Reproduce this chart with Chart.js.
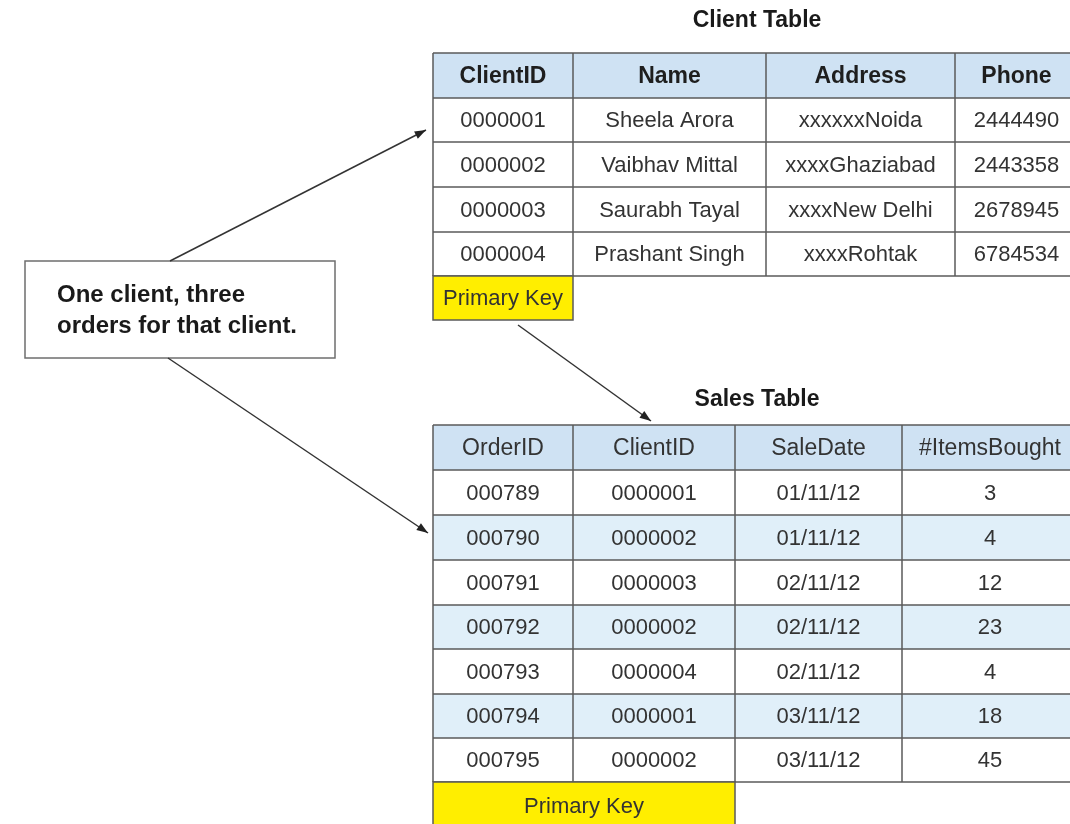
<!DOCTYPE html>
<html>
<head>
<meta charset="utf-8">
<script src="https://cdn.jsdelivr.net/npm/chart.js@4"></script>
<style>
  body { margin: 0; background: #fff; }
  #wrap { width: 1070px; height: 824px; }
</style>
</head>
<body>
<div id="wrap"><canvas id="c" width="1070" height="824"></canvas></div>
<script>
// --- data -------------------------------------------------------------
const clientHeaders = ['ClientID', 'Name', 'Address', 'Phone'];
const clientIds = ['0000001', '0000002', '0000003', '0000004'];
const clientNames = ['Sheela Arora', 'Vaibhav Mittal', 'Saurabh Tayal', 'Prashant Singh'];
const clientAddresses = ['xxxxxxNoida', 'xxxxGhaziabad', 'xxxxNew Delhi', 'xxxxRohtak'];
const clientPhones = ['2444490', '2443358', '2678945', '6784534'];

const salesHeaders = ['OrderID', 'ClientID', 'SaleDate', '#ItemsBought'];
const orderIds = ['000789', '000790', '000791', '000792', '000793', '000794', '000795'];
const saleClientIds = ['0000001', '0000002', '0000003', '0000002', '0000004', '0000001', '0000002'];
const saleDates = ['01/11/12', '01/11/12', '02/11/12', '02/11/12', '02/11/12', '03/11/12', '03/11/12'];
const itemsBought = [3, 4, 12, 23, 4, 18, 45];

const noteLines = ['One client, three', 'orders for that client.'];

// --- layout (in axis units, 1 unit = 1 px) ----------------------------
const clientCols = [433, 573, 766, 955, 1078];
const clientRows = [53, 98, 142, 187, 232, 276];
const salesCols = [433, 573, 735, 902, 1078];
const salesRows = [425, 470, 515, 560, 605, 649, 694, 738, 782];

// arrows: from -> to
const arrows = [
    [170, 261, 426, 130],
    [168, 358, 428, 533],
    [518, 325, 651, 421]
];

const HEAD_BG = '#cfe2f3', ALT_BG = '#e0eff9', KEY_BG = '#ffee00';
const LINE = '#5a5a5a', TXT = '#333333';
const FONT = '"Liberation Sans", Arial, sans-serif';

function drawTable(chart, cols, rows, header, body, opts) {
    const {ctx, scales: {x, y}} = chart;
    const X = v => x.getPixelForValue(v), Y = v => y.getPixelForValue(v);
    ctx.save();
    // backgrounds
    for (let r = 0; r < rows.length - 1; r++) {
        let bg = '#ffffff';
        if (r === 0) bg = HEAD_BG;
        else if (opts.striped && r % 2 === 0) bg = ALT_BG;
        ctx.fillStyle = bg;
        ctx.fillRect(X(cols[0]), Y(rows[r]), X(cols[cols.length - 1]) - X(cols[0]), Y(rows[r + 1]) - Y(rows[r]));
    }
    // grid
    ctx.strokeStyle = LINE;
    ctx.lineWidth = 1.5;
    rows.forEach(rv => {
        ctx.beginPath();
        ctx.moveTo(X(cols[0]), Y(rv));
        ctx.lineTo(X(cols[cols.length - 1]), Y(rv));
        ctx.stroke();
    });
    cols.forEach(cv => {
        ctx.beginPath();
        ctx.moveTo(X(cv), Y(rows[0]));
        ctx.lineTo(X(cv), Y(rows[rows.length - 1]));
        ctx.stroke();
    });
    // text
    ctx.textAlign = 'center';
    ctx.textBaseline = 'middle';
    const cells = [header].concat(body);
    cells.forEach((row, r) => {
        if (r === 0) {
            ctx.font = (opts.boldHeader ? 'bold ' : '') + '23px ' + FONT;
            ctx.fillStyle = opts.boldHeader ? '#1e1e1e' : TXT;
        } else {
            ctx.font = '22px ' + FONT;
            ctx.fillStyle = TXT;
        }
        row.forEach((val, c) => {
            const cx = (X(cols[c]) + X(cols[c + 1])) / 2;
            const cy = (Y(rows[r]) + Y(rows[r + 1])) / 2 + 1;
            ctx.fillText(String(val), cx, cy);
        });
    });
    ctx.restore();
}

function drawKey(chart, x0, x1, y0, y1) {
    const {ctx, scales: {x, y}} = chart;
    const X = v => x.getPixelForValue(v), Y = v => y.getPixelForValue(v);
    ctx.save();
    ctx.fillStyle = KEY_BG;
    ctx.fillRect(X(x0), Y(y0), X(x1) - X(x0), Y(y1) - Y(y0));
    ctx.strokeStyle = LINE;
    ctx.lineWidth = 1.5;
    ctx.strokeRect(X(x0), Y(y0), X(x1) - X(x0), Y(y1) - Y(y0));
    ctx.fillStyle = TXT;
    ctx.font = '22px ' + FONT;
    ctx.textAlign = 'center';
    ctx.textBaseline = 'middle';
    ctx.fillText('Primary Key', (X(x0) + X(x1)) / 2, (Y(y0) + Y(y1)) / 2 + 1);
    ctx.restore();
}

const diagramPlugin = {
    id: 'diagram',
    beforeDatasetsDraw(chart) {
        const {ctx, scales: {x, y}} = chart;
        const X = v => x.getPixelForValue(v), Y = v => y.getPixelForValue(v);

        ctx.save();
        ctx.fillStyle = '#1a1a1a';
        ctx.font = 'bold 23px ' + FONT;
        ctx.textAlign = 'center';
        ctx.textBaseline = 'middle';
        ctx.fillText('Client Table', X(757), Y(21));
        ctx.fillText('Sales Table', X(757), Y(400));
        ctx.restore();

        const clientBody = clientIds.map((id, i) => [id, clientNames[i], clientAddresses[i], clientPhones[i]]);
        drawTable(chart, clientCols, clientRows, clientHeaders, clientBody, {boldHeader: true, striped: false});
        drawKey(chart, 433, 573, 276, 320);

        const salesBody = orderIds.map((id, i) => [id, saleClientIds[i], saleDates[i], itemsBought[i]]);
        drawTable(chart, salesCols, salesRows, salesHeaders, salesBody, {boldHeader: false, striped: true});
        drawKey(chart, 433, 735, 782, 830);

        // note box
        ctx.save();
        ctx.fillStyle = '#fff';
        ctx.strokeStyle = '#6e6e6e';
        ctx.lineWidth = 1.5;
        ctx.fillRect(X(25), Y(261), X(335) - X(25), Y(358) - Y(261));
        ctx.strokeRect(X(25), Y(261), X(335) - X(25), Y(358) - Y(261));
        ctx.fillStyle = '#1a1a1a';
        ctx.font = 'bold 24px ' + FONT;
        ctx.textAlign = 'left';
        ctx.textBaseline = 'middle';
        noteLines.forEach((t, i) => ctx.fillText(t, X(57), Y(295 + i * 31)));
        ctx.restore();
    },
    afterDatasetsDraw(chart) {
        const {ctx, scales: {x, y}} = chart;
        ctx.save();
        ctx.fillStyle = '#222';
        arrows.forEach(a => {
            const x0 = x.getPixelForValue(a[0]), y0 = y.getPixelForValue(a[1]);
            const x1 = x.getPixelForValue(a[2]), y1 = y.getPixelForValue(a[3]);
            const ang = Math.atan2(y1 - y0, x1 - x0);
            ctx.beginPath();
            ctx.moveTo(x1, y1);
            ctx.lineTo(x1 - 12 * Math.cos(ang - 0.35), y1 - 12 * Math.sin(ang - 0.35));
            ctx.lineTo(x1 - 12 * Math.cos(ang + 0.35), y1 - 12 * Math.sin(ang + 0.35));
            ctx.closePath();
            ctx.fill();
        });
        ctx.restore();
    }
};

const chart = new Chart(document.getElementById('c'), {
    type: 'scatter',
    data: {
        datasets: arrows.map(a => ({
            data: [{x: a[0], y: a[1]}, {x: a[2], y: a[3]}],
            showLine: true, borderColor: '#333', borderWidth: 1.5, pointRadius: 0
        }))
    },
    options: {
        responsive: false, animation: false, events: [],
        layout: {padding: 0},
        scales: {
            x: {type: 'linear', min: 0, max: 1070, display: false},
            y: {type: 'linear', min: 0, max: 824, reverse: true, display: false}
        },
        plugins: {legend: {display: false}, tooltip: {enabled: false}}
    },
    plugins: [diagramPlugin]
});
</script>
</body>
</html>
